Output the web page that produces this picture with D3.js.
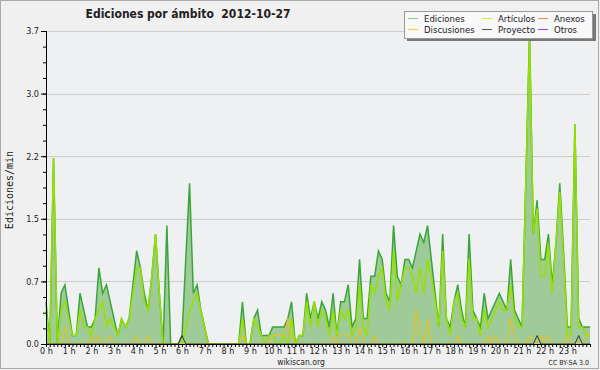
<!DOCTYPE html>
<html>
<head>
<meta charset="utf-8">
<script src="https://cdn.jsdelivr.net/npm/d3@7"></script>
<style>
  body { margin: 0; background: #f0f0f0; }
  svg { display: block; }
  text { font-family: "DejaVu Sans Condensed", "DejaVu Sans", sans-serif; fill: #222; }
</style>
</head>
<body>
<script>
// 10-minute steps over the day, edits per minute
var ediciones = [
  0.5, 0, 2.2, 0, 0.6, 0.7, 0.4, 0.1, 0.1, 0.6,
  0.4, 0.2, 0.2, 0.3, 0.9, 0.6, 0.7, 0.5, 0.3, 0.1,
  0.3, 0.2, 0.3, 0.7, 1.1, 0.9, 0.6, 0.4, 0.8, 1.3,
  0.6, 0, 1.4, 0, 0, 0, 0.1, 1.0, 1.9, 0.6,
  0.7, 0.4, 0.2, 0, 0, 0, 0, 0, 0, 0,
  0, 0, 0.5, 0, 0, 0.3, 0.4, 0.1, 0.1, 0.1,
  0.2, 0.2, 0.2, 0.2, 0.3, 0.5, 0, 0.1, 0.1, 0.6,
  0.3, 0.5, 0.3, 0.5, 0.4, 0.2, 0.6, 0.1, 0.5, 0.5,
  0.7, 0.2, 0.3, 1.0, 0.3, 0.3, 0.8, 0.8, 1.1, 1.0,
  0.6, 0.5, 1.4, 0.8, 0.7, 1.0, 1.0, 0.9, 1.1, 1.3,
  1.2, 1.4, 1.0, 0.6, 0.2, 1.3, 0.3, 0.2, 0.5, 0.7,
  0.4, 0.2, 1.3, 0.4, 0.3, 0.2, 0.6, 0.3, 0.4, 0.5,
  0.6, 0.5, 0.4, 1.0, 0.4, 0.3, 0.2, 1.9, 3.7, 1.3,
  1.7, 1.0, 1.0, 1.3, 0.7, 1.2, 1.9, 1.1, 0.2, 0.2,
  2.6, 0.3, 0.2, 0.2, 0.2
]

var articulos = [
  0.4, 0, 2.2, 0, 0.4, 0.5, 0.3, 0.1, 0.1, 0.4,
  0.2, 0.2, 0.1, 0.3, 0.4, 0.5, 0.2, 0.3, 0.2, 0.1,
  0.3, 0.2, 0.3, 0.6, 0.9, 0.9, 0.5, 0.4, 0.8, 1.3,
  0.6, 0, 0, 0, 0, 0, 0, 0.2, 0.4, 0.5,
  0.6, 0.4, 0.2, 0, 0, 0, 0, 0, 0, 0,
  0, 0, 0.3, 0, 0, 0.3, 0.2, 0.1, 0, 0.1,
  0.1, 0, 0, 0.1, 0, 0.3, 0, 0.1, 0.1, 0.5,
  0.2, 0.5, 0.2, 0.4, 0.3, 0.1, 0.4, 0.1, 0.4, 0.3,
  0.4, 0.1, 0.2, 0.7, 0.2, 0.1, 0.7, 0.6, 0.8, 0.9,
  0.5, 0.4, 1.1, 0.5, 0.7, 0.9, 0.9, 0.8, 0.6, 0.9,
  0.6, 1.0, 0.8, 0.5, 0.2, 1.1, 0.3, 0.1, 0.5, 0.6,
  0.3, 0.2, 1.0, 0.3, 0.3, 0.1, 0.4, 0.2, 0.3, 0.4,
  0.5, 0.4, 0.4, 0.7, 0.3, 0.2, 0.2, 1.9, 3.6, 1.3,
  1.6, 0.8, 0.8, 1.2, 0.6, 1.2, 1.8, 1.0, 0.1, 0.1,
  2.6, 0.2, 0.2, 0.1, 0.1
]

var discusiones = [
  0, 0, 0, 0, 0, 0.2, 0, 0, 0, 0,
  0, 0, 0.1, 0, 0.1, 0, 0, 0.1, 0, 0,
  0, 0, 0, 0, 0.1, 0, 0, 0.1, 0, 0,
  0, 0, 0, 0, 0, 0, 0, 0, 0, 0,
  0, 0, 0, 0, 0, 0, 0, 0, 0, 0,
  0, 0, 0.1, 0, 0, 0, 0, 0, 0, 0,
  0.1, 0.1, 0.1, 0.1, 0.3, 0.1, 0, 0, 0, 0,
  0, 0, 0, 0, 0, 0, 0.1, 0, 0.1, 0.1,
  0.1, 0, 0, 0.2, 0, 0, 0, 0.1, 0, 0,
  0, 0, 0, 0, 0, 0, 0, 0, 0.4, 0.1,
  0, 0.3, 0, 0, 0, 0, 0, 0, 0, 0.1,
  0, 0, 0, 0, 0, 0, 0, 0.1, 0, 0.1,
  0, 0, 0, 0.3, 0.1, 0, 0, 0, 0.1, 0,
  0, 0.1, 0, 0.1, 0, 0, 0, 0, 0.1, 0,
  0, 0, 0, 0.1, 0.1
]

var proyecto = [
  0, 0, 0, 0, 0, 0, 0, 0, 0, 0,
  0, 0, 0, 0, 0, 0, 0, 0, 0, 0,
  0, 0, 0, 0, 0, 0, 0, 0, 0, 0,
  0, 0, 0, 0, 0, 0, 0.1, 0, 0, 0,
  0, 0, 0, 0, 0, 0, 0, 0, 0, 0,
  0, 0, 0, 0, 0, 0, 0, 0, 0, 0,
  0, 0, 0, 0, 0, 0, 0, 0, 0, 0,
  0, 0, 0, 0, 0, 0, 0, 0, 0, 0,
  0, 0, 0, 0, 0, 0, 0, 0, 0, 0,
  0, 0, 0, 0, 0, 0, 0, 0, 0, 0,
  0, 0, 0, 0, 0, 0, 0, 0, 0, 0,
  0, 0, 0, 0, 0, 0, 0, 0, 0, 0,
  0, 0, 0, 0, 0, 0, 0, 0, 0, 0,
  0.1, 0, 0, 0, 0, 0, 0, 0, 0, 0,
  0, 0.1, 0, 0, 0
]

var yTicks = [0, 0.74, 1.48, 2.22, 2.96, 3.7]
var yTickLabels = ["0.0", "0.7", "1.5", "2.2", "3.0", "3.7"]
var hourLabels = ["0 h", "1 h", "2 h", "3 h", "4 h", "5 h", "6 h", "7 h", "8 h", "9 h", "10 h", "11 h",
  "12 h", "13 h", "14 h", "15 h", "16 h", "17 h", "18 h", "19 h", "20 h", "21 h", "22 h", "23 h"]

// legend: Anexos and Otros stay at zero all day, so only their keys show
var legend = [
  { name: "Ediciones", color: "#88cc88", col: 0, row: 0 },
  { name: "Artículos", color: "#ccee44", col: 1, row: 0 },
  { name: "Anexos", color: "#ee8844", col: 2, row: 0 },
  { name: "Discusiones", color: "#ffcc44", col: 0, row: 1 },
  { name: "Proyecto", color: "#555555", col: 1, row: 1 },
  { name: "Otros", color: "#9944ee", col: 2, row: 1 }
]

var W = 600, H = 370

var d = d3.select("body").append("svg")
  .attr("width", W)
  .attr("height", H)

d.append("rect")
  .attr("x", 0.5).attr("y", 0.5)
  .attr("width", W - 2).attr("height", H - 2)
  .attr("fill", "#f0f0f0")
  .attr("stroke", "#aaa")

var x = d3.scaleLinear().domain([0, 144]).range([46, 590])
var y = d3.scaleLinear().domain([0, 3.7]).range([344, 31])

d.append("rect")
  .attr("x", x(0)).attr("y", y(3.7))
  .attr("width", x(144) - x(0)).attr("height", y(0) - y(3.7))
  .attr("fill", "#eef0f1")

// grid
d.append("g")
  .selectAll("line")
  .data(yTicks.slice(1))
  .join("line")
  .attr("x1", x(0)).attr("x2", x(144))
  .attr("y1", function (v) { return Math.round(y(v)) + 0.5 })
  .attr("y2", function (v) { return Math.round(y(v)) + 0.5 })
  .attr("stroke", "#cccccc")

function line() {
  return d3.line()
    .x(function (v, i) { return x(i) })
    .y(function (v) { return y(v) })
}

var area = d3.area()
  .x(function (v, i) { return x(i) })
  .y0(y(0))
  .y1(function (v) { return y(v) })

d.append("path")
  .attr("d", area(ediciones))
  .attr("fill", "#9ecb98")

d.append("path")
  .attr("d", line()(ediciones))
  .attr("fill", "none")
  .attr("stroke", "#3aa63a")
  .attr("stroke-width", 1.5)

d.append("path")
  .attr("d", line()(articulos))
  .attr("fill", "none")
  .attr("stroke", "#97e000")
  .attr("stroke-width", 1.5)

d.append("path")
  .attr("d", line()(discusiones))
  .attr("fill", "none")
  .attr("stroke", "#f5c000")
  .attr("stroke-width", 1)

d.append("path")
  .attr("d", line()(proyecto))
  .attr("fill", "none")
  .attr("stroke", "#333")
  .attr("stroke-width", 1)

// axes (minor ticks in their own groups, labels on the major ones)
d.append("g")
  .attr("transform", "translate(" + x(0) + ",0)")
  .call(d3.axisLeft(y).tickValues(d3.range(0, 3.71, 0.185)).tickSize(3).tickFormat(""))
d.append("g")
  .attr("transform", "translate(" + x(0) + ",0)")
  .call(d3.axisLeft(y).tickValues(yTicks).tickSize(5).tickPadding(2)
    .tickFormat(function (v, i) { return yTickLabels[i] }))

d.append("g")
  .attr("transform", "translate(0," + y(0) + ")")
  .call(d3.axisBottom(x).tickValues(d3.range(0, 145)).tickSize(3).tickFormat(""))
d.append("g")
  .attr("transform", "translate(0," + y(0) + ")")
  .call(d3.axisBottom(x).tickValues(d3.range(0, 144, 6)).tickSize(3).tickPadding(1)
    .tickFormat(function (v) { return hourLabels[v / 6] }))

d.selectAll(".domain").attr("stroke", "#000")
d.selectAll(".tick line").attr("stroke", "#000")
d.selectAll(".tick text")
  .style("font-family", '"DejaVu Sans Condensed", "DejaVu Sans", sans-serif')
  .style("font-size", "9px")
  .attr("fill", "#333")

// texts
d.append("text")
  .attr("x", 188).attr("y", 18)
  .attr("text-anchor", "middle")
  .style("font-weight", "bold")
  .style("font-size", "12px")
  .style("white-space", "pre")
  .text("Ediciones por ámbito  2012-10-27")

d.append("text")
  .attr("transform", "translate(13,190) rotate(-90)")
  .attr("text-anchor", "middle")
  .style("font-family", '"DejaVu Sans Mono", monospace')
  .style("font-size", "10px")
  .text("Ediciones/min")

d.append("text")
  .attr("x", 301).attr("y", 365)
  .attr("text-anchor", "middle")
  .style("font-size", "8.5px")
  .attr("fill", "#333")
  .text("wikiscan.org")

d.append("text")
  .attr("x", 589).attr("y", 365)
  .attr("text-anchor", "end")
  .style("font-size", "7px")
  .attr("fill", "#444")
  .text("CC BY-SA 3.0")

// legend box with shadow
d.append("rect")
  .attr("x", 407).attr("y", 14)
  .attr("width", 189).attr("height", 27)
  .attr("fill", "#777")
d.append("rect")
  .attr("x", 404.5).attr("y", 11.5)
  .attr("width", 188).attr("height", 27)
  .attr("fill", "#f8f8f8")
  .attr("stroke", "#999")

var lg = d.append("g")
  .selectAll("g")
  .data(legend)
  .join("g")
  .attr("transform", function (k) {
    return "translate(" + [408, 482, 538][k.col] + "," + (18 + k.row * 11) + ")"
  })
lg.append("line")
  .attr("x1", 0).attr("x2", 10)
  .attr("y1", 0.5).attr("y2", 0.5)
  .attr("stroke", function (k) { return k.color })
lg.append("text")
  .attr("x", 16)
  .attr("y", 3.5)
  .style("font-size", "9.5px")
  .attr("fill", "#333")
  .text(function (k) { return k.name })
</script>
</body>
</html>
